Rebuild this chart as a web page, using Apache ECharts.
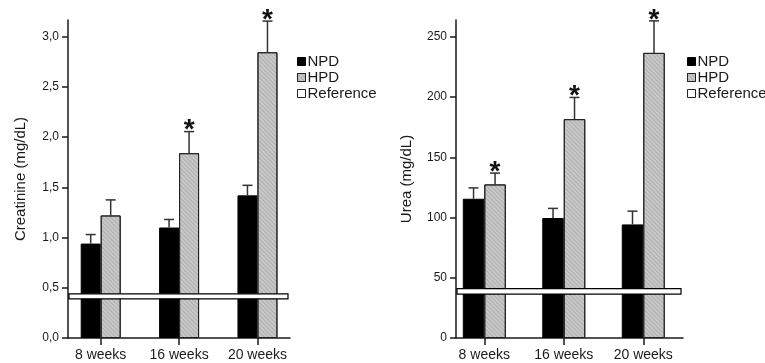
<!DOCTYPE html>
<html>
<head>
<meta charset="utf-8">
<script src="https://cdn.jsdelivr.net/npm/echarts@6/dist/echarts.min.js"></script>
<style>
html, body { margin: 0; padding: 0; background: #fff; }
#chart { width: 765px; height: 363px; }
</style>
</head>
<body>
<div id="chart"></div>
<script>
// categories
const weeks = ['8 weeks', '16 weeks', '20 weeks']

// creatinine (mg/dL): mean and SEM
const creatNPD = [0.94, 1.10, 1.42]
const creatNPDSem = [0.09, 0.08, 0.10]
const creatHPD = [1.22, 1.84, 2.845]
const creatHPDSem = [0.155, 0.215, 0.31]
const creatSig = [0, 1, 1]
const creatRef = [0.39, 0.44]
const creatTicks = [0, 0.5, 1, 1.5, 2, 2.5, 3]

// urea (mg/dL): mean and SEM
const ureaNPD = [115.6, 99.6, 94.3]
const ureaNPDSem = [9, 8, 11]
const ureaHPD = [127.5, 181.7, 236.7]
const ureaHPDSem = [9.4, 18, 26.6]
const ureaSig = [1, 1, 1]
const ureaRef = [36.5, 41]
const ureaTicks = [0, 50, 100, 150, 200, 250]

const FONT = 'Liberation Sans, Arial, sans-serif'
const INK = '#1a1a1a'
const HPD_GREY = '#c8c8c8'

const hatch = {
  symbol: 'rect',
  symbolSize: 1,
  dashArrayX: [1, 0],
  dashArrayY: [1, 2],
  rotation: Math.PI / 4,
  color: 'rgba(0,0,0,0.13)'
}

function xAxisFor(idx, min, max) {
  return {
    type: 'value',
    gridIndex: idx,
    min: min,
    max: max,
    splitLine: { show: false },
    axisLine: { show: true, onZero: false, lineStyle: { color: INK, width: 1.5 } },
    axisTick: { show: true, length: 7, customValues: [0, 1, 2], lineStyle: { color: INK, width: 1.5 } },
    axisLabel: {
      customValues: [0, 1, 2],
      formatter: (v) => weeks[Math.round(v)],
      color: INK,
      fontSize: 14,
      fontFamily: FONT,
      margin: 10
    }
  }
}

function yAxisFor(idx, max, ticks, name, gap, fmt) {
  return {
    type: 'value',
    gridIndex: idx,
    min: 0,
    max: max,
    name: name,
    nameLocation: 'middle',
    nameGap: gap,
    nameTextStyle: { color: INK, fontSize: 15, fontFamily: FONT },
    splitLine: { show: false },
    axisLine: { show: true, onZero: false, lineStyle: { color: INK, width: 1.5 } },
    axisTick: { show: true, length: 6, customValues: ticks, lineStyle: { color: INK, width: 1.5 } },
    axisLabel: {
      customValues: ticks,
      formatter: fmt,
      color: INK,
      fontSize: 12,
      fontFamily: FONT,
      margin: 9
    }
  }
}

// builds the series for one panel
function panelSeries(idx, npd, npdSem, hpd, hpdSem, sig, ref, barW) {
  const errData = []
  npd.forEach((v, k) => { errData.push([k, v, npdSem[k], -1, 0]) })
  hpd.forEach((v, k) => { errData.push([k, v, hpdSem[k], 1, sig[k]]) })
  return [
    {
      name: 'NPD',
      type: 'bar',
      xAxisIndex: idx,
      yAxisIndex: idx,
      barWidth: barW,
      barGap: '0%',
      data: npd.map((v, k) => [k, v]),
      itemStyle: { color: '#000', borderColor: '#000', borderWidth: 1 },
      z: 2
    },
    {
      name: 'HPD',
      type: 'bar',
      xAxisIndex: idx,
      yAxisIndex: idx,
      barWidth: barW,
      barGap: '0%',
      data: hpd.map((v, k) => [k, v]),
      itemStyle: { color: HPD_GREY, borderColor: '#222', borderWidth: 1, decal: hatch },
      z: 2
    },
    {
      name: 'err' + idx,
      type: 'custom',
      xAxisIndex: idx,
      yAxisIndex: idx,
      data: errData,
      encode: { x: 0, y: 1 },
      silent: true,
      z: 3,
      renderItem: (params, api) => {
        const x = api.value(0)
        const mean = api.value(1)
        const sem = api.value(2)
        const side = api.value(3)
        const base = api.coord([x, mean])
        const top = api.coord([x, mean + sem])
        const cx = base[0] + side * barW / 2
        const children = [
          { type: 'line', shape: { x1: cx, y1: base[1], x2: cx, y2: top[1] }, style: { stroke: '#333', lineWidth: 1.5 } },
          { type: 'line', shape: { x1: cx - 5, y1: top[1], x2: cx + 5, y2: top[1] }, style: { stroke: '#333', lineWidth: 1.5 } }
        ]
        if (api.value(4)) {
          children.push({
            type: 'text',
            style: {
              text: '*',
              x: cx,
              y: top[1] - 1,
              align: 'center',
              verticalAlign: 'middle',
              fill: '#111',
              font: 'bold 28px ' + FONT
            }
          })
        }
        return { type: 'group', children: children }
      }
    },
    {
      name: 'Reference',
      type: 'custom',
      xAxisIndex: idx,
      yAxisIndex: idx,
      data: [[0, ref[0], ref[1]]],
      encode: { x: 0, y: [1, 2] },
      itemStyle: { color: '#fff', borderColor: '#000' },
      silent: true,
      z: 4,
      renderItem: (params, api) => {
        const cs = params.coordSys
        const lo = api.coord([0, api.value(1)])
        const hi = api.coord([0, api.value(2)])
        return {
          type: 'rect',
          shape: { x: cs.x + 1, y: hi[1], width: cs.width - 3, height: lo[1] - hi[1] },
          style: { fill: '#fff', stroke: '#000', lineWidth: 1.2 }
        }
      }
    }
  ]
}

function legendFor(left) {
  return {
    orient: 'vertical',
    left: left,
    top: 54,
    icon: 'rect',
    itemWidth: 8,
    itemHeight: 8,
    itemGap: 1,
    padding: 0,
    selectedMode: false,
    textStyle: { color: INK, fontSize: 15, fontFamily: FONT, padding: [0, 0, 0, -3] },
    data: [
      { name: 'NPD', itemStyle: { color: '#000', borderColor: '#000', borderWidth: 1 } },
      { name: 'HPD', itemStyle: { color: HPD_GREY, borderColor: '#222', borderWidth: 1 } },
      { name: 'Reference', itemStyle: { color: '#fff', borderColor: '#222', borderWidth: 1 } }
    ]
  }
}

const chart = echarts.init(document.getElementById('chart'))
chart.setOption({
  backgroundColor: '#fff',
  animation: false,
  textStyle: { fontFamily: FONT },
  grid: [
    { left: 68, top: 20, width: 222, height: 318 },
    { left: 456, top: 20, width: 227, height: 318 }
  ],
  legend: [legendFor(297), legendFor(687)],
  xAxis: [xAxisFor(0, -0.417, 2.415), xAxisFor(1, -0.356, 2.5)],
  yAxis: [
    yAxisFor(0, 3.166, creatTicks, 'Creatinine (mg/dL)', 40, (v) => v.toFixed(1).replace('.', ',')),
    yAxisFor(1, 264, ureaTicks, 'Urea (mg/dL)', 42, (v) => String(v))
  ],
  series: [
    ...panelSeries(0, creatNPD, creatNPDSem, creatHPD, creatHPDSem, creatSig, creatRef, 20),
    ...panelSeries(1, ureaNPD, ureaNPDSem, ureaHPD, ureaHPDSem, ureaSig, ureaRef, 21.5)
  ]
})
</script>
</body>
</html>
